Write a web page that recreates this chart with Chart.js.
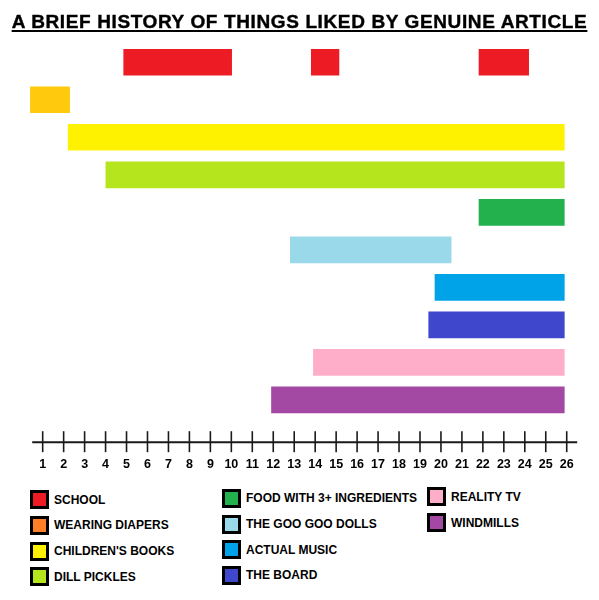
<!DOCTYPE html>
<html>
<head>
<meta charset="utf-8">
<script src="https://cdn.jsdelivr.net/npm/chart.js@4/dist/chart.umd.min.js"></script>
<style>
	body { margin: 0; background: #fff; overflow: hidden; }
	#page { position: relative; width: 599px; height: 600px; font-family: 'Liberation Sans', Arial, sans-serif; }
	#title {
		position: absolute; left: 0; top: 12.2px; width: 599px; text-align: center;
		font-size: 19px; line-height: 19px; font-weight: bold; color: #000; letter-spacing: 0.62px;
		-webkit-text-stroke: 0.4px #000;
		text-decoration: underline; text-decoration-thickness: 2px; text-underline-offset: 2px;
	}
	#chart { position: absolute; left: 0; top: 0; }
	.legend-col { position: absolute; }
	.legend-item { display: flex; align-items: center; height: 25.7px; font-size: 12px; font-weight: bold; color: #000; white-space: nowrap; }
	.legend-box { width: 19px; height: 19px; box-sizing: border-box; border: 3px solid #000; margin-right: 5px; }
</style>
</head>
<body>
<div id="page">
	<canvas id="chart" width="599" height="480"></canvas>
	<div id="title">A BRIEF HISTORY OF THINGS LIKED BY GENUINE ARTICLE</div>
	<div id="legend"></div>
</div>
<script>
const categories = ['SCHOOL', 'WEARING DIAPERS', "CHILDREN'S BOOKS", 'DILL PICKLES', 'FOOD WITH 3+ INGREDIENTS', 'THE GOO GOO DOLLS', 'ACTUAL MUSIC', 'THE BOARD', 'REALITY TV', 'WINDMILLS'];
// age where each liking starts / stops (school has three stints)
const startAges = [[4.85, 13.8, 21.8], [0.4], [2.2], [4.0], [21.8], [12.8], [19.7], [19.4], [13.9], [11.9]];
const endAges = [[10.03, 15.15, 24.2], [2.3], [25.9], [25.9], [25.9], [20.5], [25.9], [25.9], [25.9], [25.9]];
const barColors = ['#ED1C24', '#FFC90E', '#FFF200', '#B5E61D', '#22B14C', '#99D9EA', '#00A2E8', '#3F48CC', '#FFAEC9', '#A349A4'];
const legendColors = ['#ED1C24', '#FF7F27', '#FFF200', '#B5E61D', '#22B14C', '#99D9EA', '#00A2E8', '#3F48CC', '#FFAEC9', '#A349A4'];
const ageTicks = [1, 2, 3, 4, 5, 6, 7, 8, 9, 10, 11, 12, 13, 14, 15, 16, 17, 18, 19, 20, 21, 22, 23, 24, 25, 26];

let barData = [];
let barFill = [];
categories.forEach((cat, i) => {
	startAges[i].forEach((start, j) => {
		barData.push({ x: [start, endAges[i][j]], y: cat });
		barFill.push(barColors[i]);
	});
});

// number line: axis with ticks crossing it
const axisPlugin = {
	id: 'numberLine',
	afterDraw: (chart) => {
		const xs = chart.scales.x;
		const ctx = chart.ctx;
		const y = xs.top + 23.5;
		ctx.save();
		ctx.strokeStyle = '#1a1a1a';
		ctx.lineWidth = 2;
		ctx.beginPath();
		ctx.moveTo(xs.getPixelForValue(xs.min), y);
		ctx.lineTo(xs.getPixelForValue(xs.max), y);
		ctx.stroke();
		ctx.lineWidth = 1.6;
		for (let t of xs.ticks) {
			const x = xs.getPixelForValue(t.value);
			ctx.beginPath();
			ctx.moveTo(x, y - 11);
			ctx.lineTo(x, y + 10);
			ctx.stroke();
		}
		ctx.restore();
	},
};

new Chart(document.getElementById('chart'), {
	type: 'bar',
	data: {
		labels: categories,
		datasets: [
			{
				data: barData,
				backgroundColor: barFill,
				barPercentage: 0.71,
				categoryPercentage: 1,
				clip: 4,
			},
		],
	},
	options: {
		indexAxis: 'y',
		responsive: false,
		animation: false,
		layout: { padding: { top: 43.5, left: 32.2, right: 21.8, bottom: 8.9 } },
		plugins: {
			legend: { display: false },
			title: { display: false },
			tooltip: { enabled: false },
		},
		scales: {
			x: {
				type: 'linear',
				min: 0.5,
				max: 26.5,
				grid: { display: false },
				border: { display: false },
				afterBuildTicks: (scale) => {
					scale.ticks = ageTicks.map((v) => ({ value: v }));
				},
				afterFit: (scale) => {
					// room below the bars is set by the layout padding, not by the label padding
					scale.paddingLeft = 0;
					scale.paddingRight = 0;
					scale.height = 52.4;
				},
				ticks: {
					color: '#000',
					padding: 30,
					autoSkip: false,
					maxRotation: 0,
					font: { family: "'Liberation Sans', Arial, sans-serif", size: 12.5, weight: 'bold' },
				},
			},
			y: { display: false },
		},
	},
	plugins: [axisPlugin],
});

// legend in three columns, like the drawing
const legendCols = [
	{ left: 30, top: 486.8, items: [0, 1, 2, 3] },
	{ left: 222, top: 485.5, items: [4, 5, 6, 7] },
	{ left: 427, top: 484, items: [8, 9] },
];
const legendRoot = document.getElementById('legend');
for (let col of legendCols) {
	let colDiv = document.createElement('div');
	colDiv.className = 'legend-col';
	colDiv.style.left = col.left + 'px';
	colDiv.style.top = col.top + 'px';
	for (let i of col.items) {
		colDiv.innerHTML += `<div class="legend-item"><span class="legend-box" style="background:${legendColors[i]}"></span>${categories[i]}</div>`;
	}
	legendRoot.append(colDiv);
}
</script>
</body>
</html>
